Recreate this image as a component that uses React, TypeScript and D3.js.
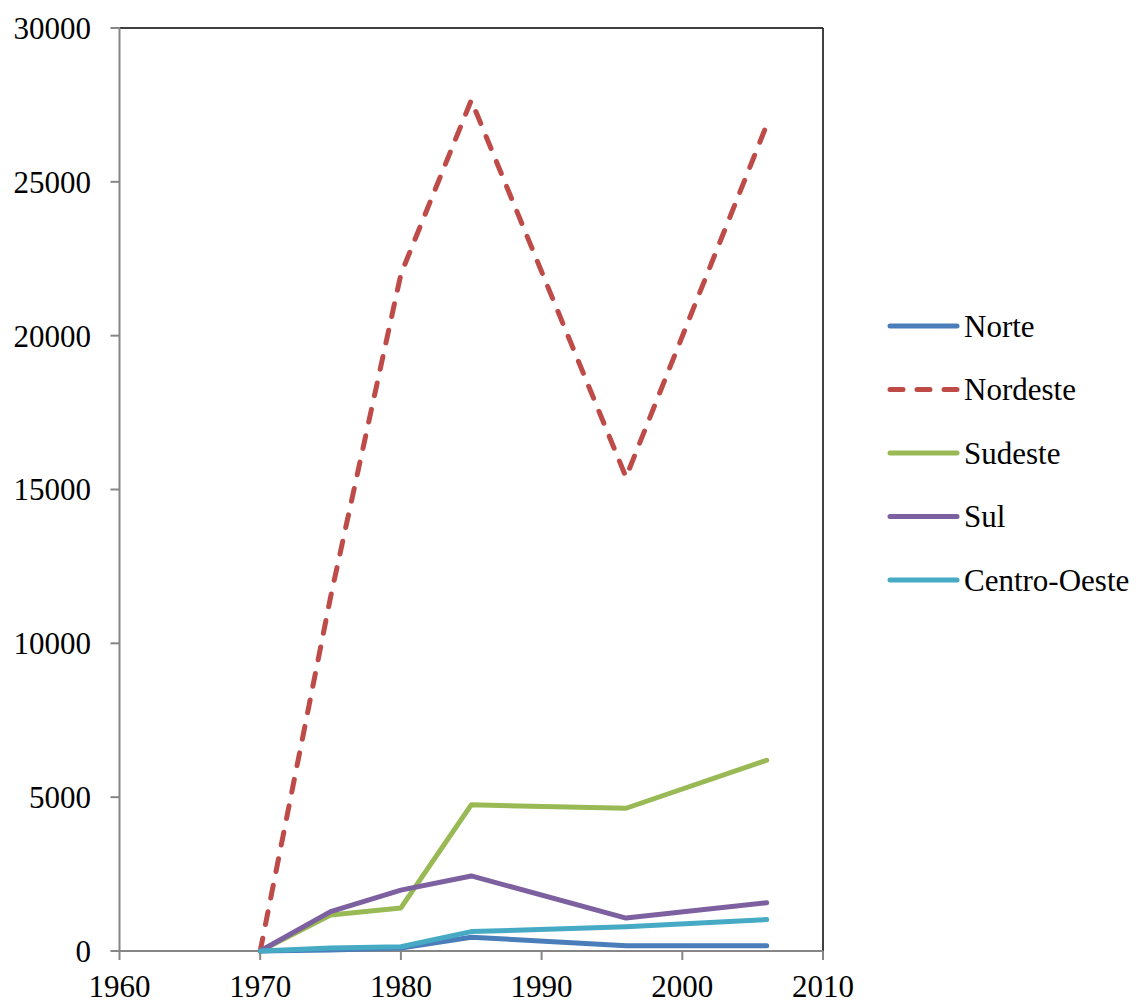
import React from "react";
import * as d3 from "d3";

const years = [1970, 1975, 1980, 1985, 1996, 2006];
const norte = [0, 30, 100, 450, 170, 170];
const nordeste = [0, 11500, 22000, 27650, 15400, 26850];
const sudeste = [0, 1170, 1400, 4750, 4640, 6200];
const sul = [0, 1280, 1980, 2440, 1070, 1570];
const centroOeste = [0, 100, 140, 630, 790, 1020];

const seriesNames = ["Norte", "Nordeste", "Sudeste", "Sul", "Centro-Oeste"];
const seriesValues = [norte, nordeste, sudeste, sul, centroOeste];
const colors = ["#4a7ebb", "#be4b48", "#98b954", "#7d60a0", "#46aac5"];
const dashed = [false, true, false, false, false];

const xTicks = [1960, 1970, 1980, 1990, 2000, 2010];
const yTicks = [0, 5000, 10000, 15000, 20000, 25000, 30000];

export default function App() {
  const W = 1139, H = 1001;
  const left = 119.5, right = 823, top = 28, bottom = 951;
  const x = d3.scaleLinear().domain([1960, 2010]).range([left, right]);
  const y = d3.scaleLinear().domain([0, 30000]).range([bottom, top]);
  const line = d3.line<[number, number]>().x(d => x(d[0])).y(d => y(d[1]));
  const font = "'Liberation Serif', 'Times New Roman', serif";
  const fs = 31;

  return (
    <svg width={W} height={H} style={{ position: "absolute", left: 0, top: 0, background: "#fff" }} fontFamily={font}>
      <rect width={W} height={H} fill="#fff" />
      {/* frame */}
      <line x1={left} x2={right} y1={top} y2={top} stroke="#000" strokeWidth={1.5} />
      <line x1={right} x2={right} y1={top} y2={bottom} stroke="#000" strokeWidth={1.5} />
      {/* axes */}
      <line x1={left} x2={left} y1={top} y2={bottom} stroke="#868686" strokeWidth={2} />
      <line x1={left} x2={right} y1={bottom} y2={bottom} stroke="#868686" strokeWidth={2} />
      {yTicks.map(t => (
        <g key={"y" + t}>
          <line x1={left - 9} x2={left} y1={y(t)} y2={y(t)} stroke="#868686" strokeWidth={2} />
          <text x={91} y={y(t)} dy="0.35em" textAnchor="end" fontSize={fs} fill="#000">{t}</text>
        </g>
      ))}
      {xTicks.map(t => (
        <g key={"x" + t}>
          <line x1={x(t)} x2={x(t)} y1={bottom} y2={bottom + 9} stroke="#868686" strokeWidth={2} />
          <text x={x(t)} y={997} textAnchor="middle" fontSize={fs} fill="#000">{t}</text>
        </g>
      ))}
      {seriesValues.map((vals, i) => (
        <path
          key={seriesNames[i]}
          d={line(years.map((yr, j) => [yr, vals[j]] as [number, number])) || ""}
          fill="none"
          stroke={colors[i]}
          strokeWidth={5}
          strokeLinecap="round"
          strokeLinejoin="round"
          strokeDasharray={dashed[i] ? "13,14" : undefined}
        />
      ))}
      {seriesNames.map((name, i) => {
        const ly = 326 + i * 63.5;
        return (
          <g key={"l" + name}>
            <line x1={890} x2={957} y1={ly} y2={ly} stroke={colors[i]} strokeWidth={5}
              strokeLinecap="round" strokeDasharray={dashed[i] ? "13,14" : undefined} />
            <text x={964} y={ly} dy="0.35em" fontSize={fs} fill="#000">{name}</text>
          </g>
        );
      })}
    </svg>
  );
}
